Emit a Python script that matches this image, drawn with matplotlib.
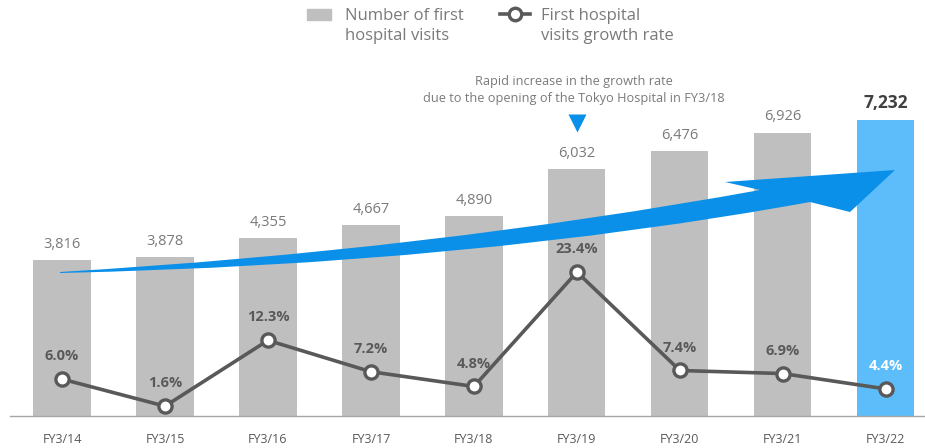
import numpy as np
import matplotlib.pyplot as plt
from matplotlib.path import Path
from matplotlib.patches import PathPatch, Rectangle
from matplotlib.lines import Line2D
from matplotlib import transforms

plt.rcParams['font.family'] = ['Open Sans', 'DejaVu Sans']

years = ['FY3/14', 'FY3/15', 'FY3/16', 'FY3/17', 'FY3/18',
         'FY3/19', 'FY3/20', 'FY3/21', 'FY3/22']
visits = [3816, 3878, 4355, 4667, 4890, 6032, 6476, 6926, 7232]
growth = [6.0, 1.6, 12.3, 7.2, 4.8, 23.4, 7.4, 6.9, 4.4]

GRAY = '#bfbfbf'
BLUE = '#5dbdfa'
ARROW = '#0a90e8'
LINE = '#595959'
TEXT = '#7a7a7a'

W, H = 925, 448
fig = plt.figure(figsize=(W / 100, H / 100), dpi=100)
ax = fig.add_axes([10 / W, 32 / H, 915 / W, 356 / H])
ax2 = ax.twinx()

x = np.arange(len(years))
colors = [GRAY] * (len(years) - 1) + [BLUE]
ax.bar(x, visits, width=0.555, color=colors, zorder=1)
ax.set_xlim(-0.505, 8.38)
ax.set_ylim(0, 356 / 0.0409)
ax2.set_ylim(0, 356 / 6.15)

for axis in (ax, ax2):
    for s in ('top', 'right', 'left'):
        axis.spines[s].set_visible(False)
    axis.set_yticks([])
ax2.spines['bottom'].set_visible(False)
ax.spines['bottom'].set_color('#a6a6a6')
ax.spines['bottom'].set_linewidth(1)

ax.set_xticks(x)
ax.set_xticklabels(years, fontsize=9, color='#595959')
ax.tick_params(axis='x', length=0, pad=12)

# bar value labels
for i, v in enumerate(visits):
    last = i == len(visits) - 1
    ax.annotate('{:,}'.format(v), (i, v), xytext=(0, 6), textcoords='offset points',
                ha='center', va='bottom',
                fontsize=12.5 if last else 10.5,
                fontweight='bold' if last else 'normal',
                color='#404040' if last else TEXT)

# growth rate line
ax2.plot(x, growth, color=LINE, lw=2.6, marker='o', ms=9.5,
         mfc='white', mec=LINE, mew=2.4, zorder=5)
for i, g in enumerate(growth):
    last = i == len(growth) - 1
    ax2.annotate('{:.1f}%'.format(g), (i, g), xytext=(0, 16.5),
                 textcoords='offset points', ha='center', va='center',
                 fontsize=10.5, fontweight='bold',
                 color='white' if last else LINE, zorder=6)

# curved growth arrow (drawn in pixel space)
px = transforms.Affine2D().scale(1 / W, -1 / H).translate(0, 1) + fig.transFigure
verts = [(60, 272), (430, 250), (760, 190), (725, 182), (895, 170),
         (850, 212), (810, 202), (470, 264), (60, 273), (60, 272)]
codes = [Path.MOVETO, Path.CURVE3, Path.CURVE3, Path.LINETO, Path.LINETO,
         Path.LINETO, Path.LINETO, Path.CURVE3, Path.CURVE3, Path.CLOSEPOLY]
fig.patches.append(PathPatch(Path(verts, codes), facecolor=ARROW,
                             edgecolor='none', transform=px, zorder=3))

# callout over FY3/19
tri = transforms.offset_copy(ax.transData, fig=fig, y=33, units='points')
ax.plot(5, visits[5], marker='v', ms=13, color=ARROW, mec='none',
        transform=tri, clip_on=False)
ax.annotate('Rapid increase in the growth rate\n'
            'due to the opening of the Tokyo Hospital in FY3/18',
            (5, visits[5]), xytext=(-2, 57), textcoords='offset points',
            ha='center', va='center', fontsize=9.2, color=TEXT,
            linespacing=1.35)

# legend
fig.patches.append(Rectangle((307, 9), 24, 11, color=GRAY, transform=px))
fig.text(345 / W, 1 - 26 / H, 'Number of first\nhospital visits',
         fontsize=12, color=TEXT, va='center', linespacing=1.3)
fig.lines.append(Line2D([500, 530], [14, 14], color=LINE, lw=2.6,
                        transform=px))
fig.lines.append(Line2D([515], [14], color=LINE, marker='o', ms=9,
                        mfc='white', mec=LINE, mew=2.4, transform=px))
fig.text(541 / W, 1 - 26 / H, 'First hospital\nvisits growth rate',
         fontsize=12, color=TEXT, va='center', linespacing=1.3)

fig.savefig('out.png', dpi=100)
